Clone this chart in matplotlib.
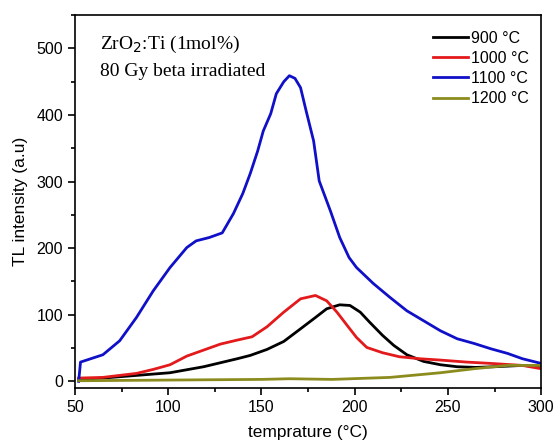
import matplotlib.pyplot as plt
from matplotlib.ticker import MultipleLocator

# 900 C
t_900 = [52, 65, 83, 101, 119, 137, 144, 153, 162, 171, 179, 185, 192, 197.5, 203, 208, 215, 221, 228, 237,
         246, 255, 265, 275, 290, 300]
i_900 = [3, 5, 9, 13, 22, 34, 39, 48, 60, 79, 96, 109, 115, 114, 104, 89, 69, 54, 40, 30,
         25, 22, 21, 22, 24, 22]

# 1000 C
t_1000 = [52, 65, 74, 83, 92, 101, 110, 119, 128, 137, 145, 153, 162, 171, 179, 185, 190.5, 196, 201, 206.5,
          215, 224, 235, 246, 260, 273, 290, 300]
i_1000 = [5, 6, 9, 12, 18, 25, 38, 47, 56, 62, 67, 82, 104, 124, 129, 121, 104, 84, 66, 51,
          43, 37, 34, 32, 29, 27, 24, 19]

# 1100 C
t_1100 = [52, 53, 65, 74, 83, 92, 101, 110, 115, 122, 129, 135, 140, 144, 148, 151, 155, 158, 162, 165, 168, 171,
          174, 178, 181, 187, 192, 197, 201, 210, 219, 228, 237, 246, 255, 264, 273, 282, 290, 300]
i_1100 = [0, 29, 40, 61, 96, 136, 171, 201, 211, 216, 223, 252, 282, 312, 346, 376, 402, 432, 450, 459, 455, 441,
          406, 361, 301, 256, 216, 186, 171, 147, 126, 106, 91, 76, 64, 57, 49, 42, 34, 27]

# 1200 C
t_1200 = [52, 100, 150, 165, 188, 219, 246, 264, 282, 300]
i_1200 = [1, 2, 3, 4, 3, 6, 13, 19, 24, 24]

series = [
    (t_900, i_900, '900 °C', 'black'),
    (t_1000, i_1000, '1000 °C', '#e31a1c'),
    (t_1100, i_1100, '1100 °C', '#1010c8'),
    (t_1200, i_1200, '1200 °C', '#8c8c1e'),
]

plt.rcParams['font.family'] = ['Liberation Sans', 'DejaVu Sans']

fig = plt.figure(figsize=(5.55, 4.44), dpi=100)
ax = fig.add_axes([0.135, 0.126, 0.84, 0.84])

for t, i, lab, c in series:
    ax.plot(t, i, color=c, lw=2, label=lab)

ax.set_xlim(50, 300)
ax.set_ylim(-10, 550)
ax.xaxis.set_major_locator(MultipleLocator(50))
ax.xaxis.set_minor_locator(MultipleLocator(25))
ax.yaxis.set_major_locator(MultipleLocator(100))
ax.yaxis.set_minor_locator(MultipleLocator(50))
ax.tick_params(which='both', direction='out', top=False, right=False, labelsize=11.5)
ax.tick_params(which='major', length=5, width=1.2)
ax.tick_params(which='minor', length=3, width=1.2)
for s in ax.spines.values():
    s.set_linewidth(1.2)

ax.set_xlabel('temprature (°C)', fontsize=12.5, labelpad=7)
ax.set_ylabel('TL intensity (a.u)', fontsize=12.5, labelpad=6)

ax.text(0.054, 0.909, 'ZrO$_2$:Ti (1mol%)', transform=ax.transAxes, fontsize=14,
        family='Liberation Serif', va='baseline')
ax.text(0.054, 0.836, '80 Gy beta irradiated', transform=ax.transAxes, fontsize=14,
        family='Liberation Serif', va='baseline')

ax.legend(loc='upper right', bbox_to_anchor=(0.975, 0.958), frameon=False, fontsize=11.5,
          handlelength=2.2, handletextpad=0.2, labelspacing=0.32, borderpad=0, borderaxespad=0)

plt.savefig('out.png', dpi=100)
